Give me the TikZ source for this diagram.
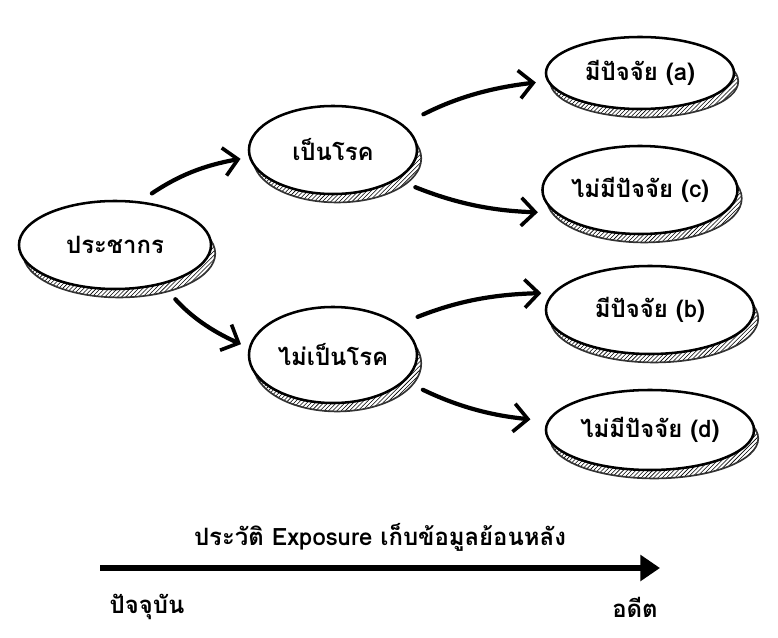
\documentclass[tikz,border=0pt]{standalone}
\usepackage{fontspec}
\newfontfamily\thaifont[Script=Thai]{Loma}
\usetikzlibrary{shapes.geometric,arrows.meta,patterns,shadows}
\tikzset{
  bubble/.style={ellipse, draw, line width=1.8pt, fill=white, inner sep=0pt,
    font=\thaifont\bfseries\fontsize{17}{20}\selectfont,
    general shadow={shadow xshift=3pt, shadow yshift=-6pt, pattern=north east lines, draw=black!80, line width=1.2pt}},
  arr/.style={-{Straight Barb[length=10pt,width=20pt,line width=2.6pt]}, line width=3pt, line cap=round},
  lbl/.style={font=\thaifont\bfseries\fontsize{17}{20}\selectfont}
}
\begin{document}
\begin{tikzpicture}[x=0.025cm,y=-0.025cm]
  \useasboundingbox (0,0) rectangle (778,638);
  % nodes
  \node[bubble, minimum width=4.8cm, minimum height=2.2cm] (pop) at (115,245) {ประชากร};
  \node[bubble, minimum width=4.2cm, minimum height=2.2cm] (dis) at (333,150) {เป็นโรค};
  \node[bubble, minimum width=4.2cm, minimum height=2.4cm] (nodis) at (333,355) {ไม่เป็นโรค};
  \node[bubble, minimum width=4.7cm, minimum height=1.8cm] (a) at (640,73) {มีปัจจัย (a)};
  \node[bubble, minimum width=4.5cm, minimum height=2.2cm] (c) at (640,190) {ไม่มีปัจจัย (c)};
  \node[bubble, minimum width=5.2cm, minimum height=2.2cm] (b) at (650,310) {มีปัจจัย (b)};
  \node[bubble, minimum width=5.2cm, minimum height=2.0cm] (d) at (650,430) {ไม่มีปัจจัย (d)};
  % connectors
  \draw[arr, shorten <=10pt, shorten >=6pt] (pop.60) to[bend left=12] (dis.185);
  \draw[arr, shorten <=14pt, shorten >=6pt] (pop.-40) to[bend right=12] (nodis.175);
  \draw[arr, shorten <=16pt, shorten >=8pt] (dis.20) to[bend left=10] (a.185);
  \draw[arr, shorten <=14pt, shorten >=12pt] (dis.-25) to[bend right=10] (c.195);
  \draw[arr, shorten <=14pt, shorten >=8pt] (nodis.25) to[bend left=10] (b.170);
  \draw[arr, shorten <=14pt, shorten >=12pt] (nodis.-20) to[bend right=10] (d.175);
  % timeline
  \coordinate (now) at (100,568);
  \coordinate (past) at (660,568);
  \draw[line width=4pt, -{Triangle[length=14pt,width=18pt]}] (now) -- (past);
  \node[lbl] (hist) at (380,537) {ประวัติ Exposure เก็บข้อมูลย้อนหลัง};
  \node[lbl] (nowlbl) at (147,607) {ปัจจุบัน};
  \node[lbl] (pastlbl) at (635,607) {อดีต};
\end{tikzpicture}
\end{document}
